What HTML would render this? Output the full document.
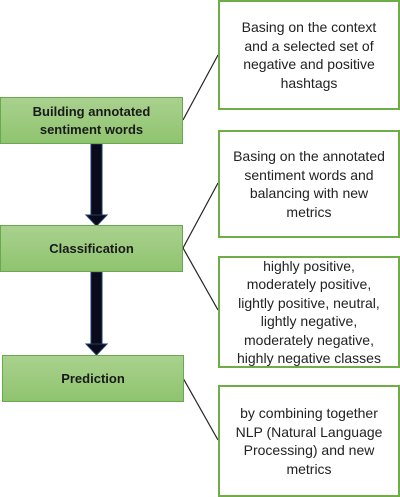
<!DOCTYPE html>
<html><head><meta charset="utf-8"><style>
body{margin:0;width:400px;height:497px;background:#fff;position:relative;overflow:hidden;font-family:"Liberation Sans",sans-serif}
.g{position:absolute;background:linear-gradient(#a9d18e,#8fc46f);border:1.5px solid #6aa84f;box-sizing:border-box;display:flex;align-items:center;justify-content:center;text-align:center;font-weight:bold;font-size:13px;line-height:18px;color:#1a1a1a}
.w{position:absolute;border:2px solid #70ad47;box-sizing:border-box;display:flex;align-items:center;justify-content:center;text-align:center;font-size:14px;line-height:18.5px;color:#222;background:#fff;white-space:nowrap}
svg{position:absolute;left:0;top:0}
</style></head><body>
<svg width="400" height="497">
<line x1="183" y1="120" x2="218" y2="55" stroke="#222" stroke-width="1.2"/>
<line x1="183" y1="248" x2="218" y2="183" stroke="#222" stroke-width="1.2"/>
<line x1="183" y1="248" x2="218" y2="310" stroke="#222" stroke-width="1.2"/>
<line x1="183" y1="378" x2="218" y2="440" stroke="#222" stroke-width="1.2"/>
<g><rect x="91" y="144" width="11" height="72" fill="#0a0a1a" stroke="#1f3a6e"/><polygon points="86,215 107,215 96.5,226" fill="#0a0a1a" stroke="#1f3a6e"/></g>
<g><rect x="91" y="272" width="11" height="72" fill="#0a0a1a" stroke="#1f3a6e"/><polygon points="86,344 107,344 96.5,355" fill="#0a0a1a" stroke="#1f3a6e"/></g>
</svg>
<div class="g" style="left:0;top:97px;width:183px;height:47px">Building annotated<br>sentiment words</div>
<div class="g" style="left:0;top:225px;width:183px;height:47px">Classification</div>
<div class="g" style="left:2px;top:355px;width:182px;height:47px">Prediction</div>
<div class="w" style="left:218px;top:0;width:182px;height:110px">Basing on the context<br>and a selected set of<br>negative and positive<br>hashtags</div>
<div class="w" style="left:218px;top:130px;width:182px;height:108px">Basing on the annotated<br>sentiment words and<br>balancing with new<br>metrics</div>
<div class="w" style="left:218px;top:256px;width:182px;height:112px;line-height:18.5px">highly positive,<br>moderately positive,<br>lightly positive, neutral,<br>lightly negative,<br>moderately negative,<br>highly negative classes</div>
<div class="w" style="left:218px;top:385px;width:182px;height:112px">by combining together<br>NLP (Natural Language<br>Processing) and new<br>metrics</div>
</body></html>
